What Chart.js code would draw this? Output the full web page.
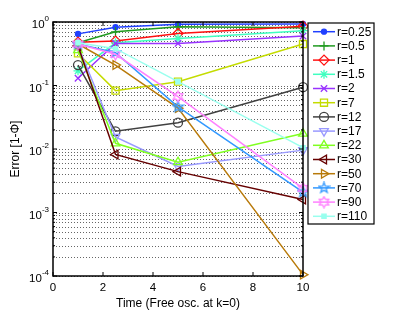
<!DOCTYPE html>
<html>
<head>
<meta charset="utf-8">
<script src="https://cdn.jsdelivr.net/npm/chart.js@4/dist/chart.umd.min.js"></script>
<style>
  html, body { margin: 0; padding: 0; background: #fff; }
</style>
</head>
<body>
<canvas id="graphic" width="415" height="312"></canvas>
<script>
const times = [1, 2.5, 5, 10];
const labels = ['r=0.25', 'r=0.5', 'r=1', 'r=1.5', 'r=2', 'r=7', 'r=12',
    'r=17', 'r=22', 'r=30', 'r=50', 'r=70', 'r=90', 'r=110'];

/* values, one array per r */
const r025 = [0.65, 0.83, 0.92, 0.93];
const r05 = [0.47, 0.70, 0.84, 0.81];
const r1 = [0.48, 0.50, 0.66, 0.86];
const r15 = [0.17, 0.47, 0.55, 0.73];
const r2 = [0.13, 0.46, 0.46, 0.60];
const r7 = [0.32, 0.083, 0.115, 0.45];
const r12 = [0.21, 0.019, 0.026, 0.094];
const r17 = [0.42, 0.0155, 0.0053, 0.0096];
const r22 = [0.36, 0.0123, 0.0062, 0.0175];
const r30 = [0.42, 0.0082, 0.0044, 0.0016];
const r50 = [0.45, 0.21, 0.044, 0.000105];
const r70 = [0.45, 0.33, 0.046, 0.0021];
const r90 = [0.45, 0.31, 0.067, 0.0024];
const r110 = [0.47, 0.38, 0.115, 0.0105];

const xTicks = [0, 2, 4, 6, 8, 10];
const yDecades = [1e-4, 1e-3, 1e-2, 1e-1, 1];
const yExponents = ['-4', '-3', '-2', '-1', '0'];

const FONT = '"Liberation Sans", Arial, Helvetica, sans-serif';

// star markers (pentagram / hexagram) drawn on small canvases
function makeStar(points, inner, color, size) {
    const c = document.createElement('canvas');
    c.width = c.height = size;
    const g = c.getContext('2d');
    g.strokeStyle = color;
    g.lineWidth = 1.3;
    const R = size / 2 - 1;
    g.beginPath();
    for (let i = 0; i < points * 2; i++) {
        const rad = i % 2 ? R * inner : R;
        const ang = -Math.PI / 2 + i * Math.PI / points;
        g.lineTo(size / 2 + rad * Math.cos(ang), size / 2 + rad * Math.sin(ang));
    }
    g.closePath();
    g.stroke();
    return c;
}

const allValues = [r025, r05, r1, r15, r2, r7, r12, r17, r22, r30, r50, r70, r90, r110];
const looks = [
    { color: '#2040ff', style: 'circle', radius: 2.5, filled: true },
    { color: '#1f9a1f', style: 'cross', radius: 4.5 },
    { color: '#ff1010', style: 'rectRot', radius: 5 },
    { color: '#40ffc0', style: 'star', radius: 4.5 },
    { color: '#9933ff', style: 'crossRot', radius: 4.5 },
    { color: '#c4dc00', style: 'rect', radius: 5 },
    { color: '#404040', style: 'circle', radius: 4.5 },
    { color: '#9999ff', style: 'triangle', radius: 5, rotation: 180 },
    { color: '#80ff20', style: 'triangle', radius: 5 },
    { color: '#660000', style: 'triangle', radius: 5, rotation: 270 },
    { color: '#b87a0a', style: 'triangle', radius: 5, rotation: 90 },
    { color: '#3399ff', style: makeStar(5, 0.4, '#3399ff', 13), radius: 5 },
    { color: '#ff80ff', style: makeStar(6, 0.58, '#ff80ff', 13), radius: 5 },
    { color: '#99ffee', style: 'rect', radius: 3, filled: true }
];

const datasets = allValues.map((values, i) => ({
    label: labels[i],
    data: values.map((v, k) => ({ x: times[k], y: v })),
    borderColor: looks[i].color,
    borderWidth: 1.5,
    pointStyle: looks[i].style,
    pointRadius: looks[i].radius,
    pointRotation: looks[i].rotation || 0,
    pointBorderColor: looks[i].color,
    pointBackgroundColor: looks[i].filled ? looks[i].color : 'rgba(0,0,0,0)',
    pointBorderWidth: 1.3,
    tension: 0,
    fill: false,
    clip: false,
    order: -i
}));

// minor + major log gridlines
const gridValues = [];
yDecades.slice(0, 4).forEach(d => {
    for (let m = 1; m <= 9; m++) gridValues.push(d * m);
});
gridValues.push(1);

const framePlugin = {
    id: 'frame',
    beforeDatasetsDraw(chart) {
        const { ctx, chartArea: a, scales: { y } } = chart;
        ctx.save();
        ctx.strokeStyle = '#666';
        ctx.lineWidth = 1;
        ctx.setLineDash([1, 2]);
        gridValues.forEach(v => {
            const py = Math.round(y.getPixelForValue(v)) + 0.5;
            ctx.beginPath();
            ctx.moveTo(a.left, py);
            ctx.lineTo(a.right, py);
            ctx.stroke();
        });
        ctx.restore();
    },
    afterDraw(chart) {
        const { ctx, chartArea: a, scales: { x, y } } = chart;
        ctx.save();
        ctx.strokeStyle = '#000';
        ctx.lineWidth = 1.5;
        ctx.strokeRect(a.left, a.top, a.right - a.left, a.bottom - a.top);

        // inward tick marks
        ctx.lineWidth = 1;
        xTicks.forEach(v => {
            const px = x.getPixelForValue(v);
            ctx.beginPath();
            ctx.moveTo(px, a.bottom); ctx.lineTo(px, a.bottom - 4);
            ctx.moveTo(px, a.top); ctx.lineTo(px, a.top + 4);
            ctx.stroke();
        });
        gridValues.forEach(v => {
            const py = y.getPixelForValue(v);
            const len = yDecades.includes(v) ? 4 : 2;
            ctx.beginPath();
            ctx.moveTo(a.left, py); ctx.lineTo(a.left + len, py);
            ctx.moveTo(a.right, py); ctx.lineTo(a.right - len, py);
            ctx.stroke();
        });

        // y tick labels as 10 with a raised exponent
        ctx.fillStyle = '#000';
        ctx.textBaseline = 'middle';
        yDecades.forEach((v, i) => {
            const py = y.getPixelForValue(v);
            ctx.font = `8px ${FONT}`;
            ctx.textAlign = 'right';
            const expW = ctx.measureText(yExponents[i]).width;
            ctx.fillText(yExponents[i], 49, py - 3);
            ctx.font = `11.5px ${FONT}`;
            ctx.fillText('10', 49 - expW, py + 3);
        });

        // legend box
        const lx = 308, ly = 23, lw = 66, lh = 201;
        ctx.fillStyle = '#fff';
        ctx.fillRect(lx, ly, lw, lh);
        ctx.lineWidth = 1.2;
        ctx.strokeStyle = '#000';
        ctx.strokeRect(lx, ly, lw, lh);
        ctx.font = `12px ${FONT}`;
        ctx.textAlign = 'left';
        labels.forEach((text, i) => {
            const cy = 31.7 + i * 14.2;
            const look = looks[i];
            ctx.strokeStyle = look.color;
            ctx.lineWidth = 1.5;
            ctx.beginPath();
            ctx.moveTo(313, cy); ctx.lineTo(335, cy);
            ctx.stroke();
            ctx.lineWidth = 1.3;
            ctx.fillStyle = look.filled ? look.color : 'rgba(0,0,0,0)';
            Chart.helpers.drawPoint(ctx, {
                pointStyle: look.style,
                radius: look.radius,
                rotation: look.rotation || 0,
                borderWidth: 1.3
            }, 324, cy);
            ctx.fillStyle = '#000';
            ctx.fillText(text, 337, cy + 0.5);
        });
        ctx.restore();
    }
};

const config = {
    type: 'line',
    data: { datasets: datasets },
    options: {
        responsive: false,
        animation: false,
        layout: { padding: { top: 22, right: 112, bottom: 0, left: 0 } },
        plugins: { legend: { display: false }, tooltip: { enabled: false } },
        scales: {
            x: {
                type: 'linear',
                min: 0,
                max: 10,
                afterFit: s => { s.height = 36; },
                afterBuildTicks: s => { s.ticks = xTicks.map(v => ({ value: v })); },
                grid: { display: false, drawTicks: false },
                border: { display: false },
                ticks: { color: '#000', font: { family: FONT, size: 11.5 }, padding: 5, maxRotation: 0 },
                title: {
                    display: true,
                    text: 'Time (Free osc. at k=0)',
                    color: '#000',
                    font: { family: FONT, size: 12 },
                    padding: { top: 0, bottom: 1 }
                }
            },
            y: {
                type: 'logarithmic',
                min: 1e-4,
                max: 1,
                afterFit: s => { s.width = 53; },
                grid: { display: false },
                border: { display: false },
                ticks: { display: false },
                title: {
                    display: true,
                    text: 'Error [1-Φ]',
                    color: '#000',
                    font: { family: FONT, size: 12 },
                    padding: { top: 8, bottom: 8 }
                }
            }
        }
    },
    plugins: [framePlugin]
};

new Chart(document.querySelector('#graphic'), config);
</script>
</body>
</html>
